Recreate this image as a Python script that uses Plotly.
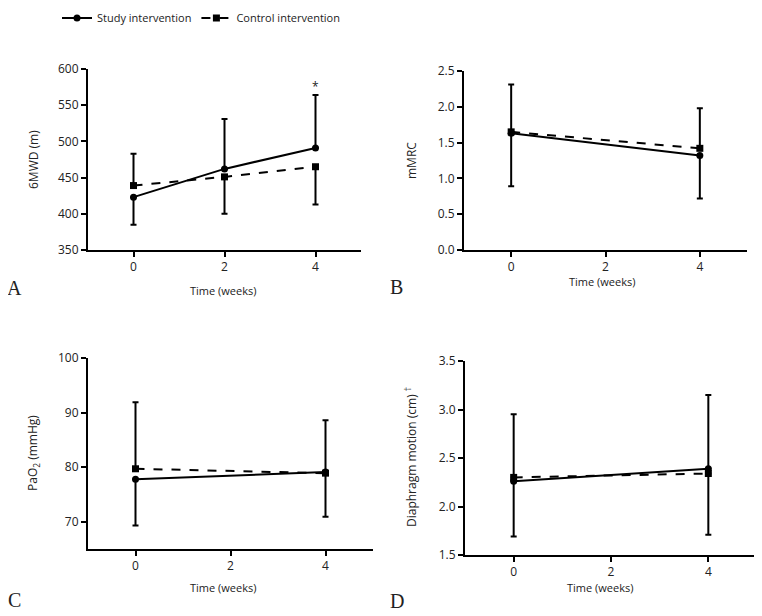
import plotly.graph_objects as go

# page is 762x616; the html body has an 8px margin, so the figure is 754x608
OFF = 8
W, H = 762 - OFF, 616 - OFF

# ---------------- data ----------------
weeks_A = [0, 2, 4]
weeks_BCD = [0, 4]

study_6mwd = [423, 462, 491]
control_6mwd = [439, 451, 465]
study_6mwd_up = [0, 69, 73]
study_6mwd_down = [38, 0, 0]
control_6mwd_up = [44, 0, 0]
control_6mwd_down = [0, 51, 52]

study_mmrc = [1.63, 1.32]
control_mmrc = [1.65, 1.42]
study_mmrc_up = [0, 0]
study_mmrc_down = [0.74, 0.60]
control_mmrc_up = [0.66, 0.56]
control_mmrc_down = [0, 0]

study_pao2 = [77.8, 79.1]
control_pao2 = [79.7, 78.9]
study_pao2_up = [0, 9.5]
study_pao2_down = [8.5, 0]
control_pao2_up = [12.2, 0]
control_pao2_down = [0, 8.0]

study_dia = [2.26, 2.39]
control_dia = [2.30, 2.34]
study_dia_up = [0, 0.76]
study_dia_down = [0.57, 0]
control_dia_up = [0.65, 0]
control_dia_down = [0, 0.63]

series_names = ["Study intervention", "Control intervention"]
x_ticks = [0, 2, 4]


def fx(px):
    return (px - OFF) / W


def fy(py):
    return 1 - (py - OFF) / H


# ---------------- layout geometry (page pixels) ----------------
panels = [
    dict(x=(88, 361), y=(69, 250), yr=[350, 600], dt=50, t0=350, fmt="d"),
    dict(x=(464, 747), y=(71, 250), yr=[0, 2.5], dt=0.5, t0=0, fmt=".1f"),
    dict(x=(88, 373), y=(358, 549), yr=[65, 100], dt=10, t0=70, fmt="d"),
    dict(x=(465, 757), y=(361, 555), yr=[1.5, 3.5], dt=0.5, t0=1.5, fmt=".1f"),
]

datasets = [
    (weeks_A, study_6mwd, study_6mwd_up, study_6mwd_down,
     control_6mwd, control_6mwd_up, control_6mwd_down),
    (weeks_BCD, study_mmrc, study_mmrc_up, study_mmrc_down,
     control_mmrc, control_mmrc_up, control_mmrc_down),
    (weeks_BCD, study_pao2, study_pao2_up, study_pao2_down,
     control_pao2, control_pao2_up, control_pao2_down),
    (weeks_BCD, study_dia, study_dia_up, study_dia_down,
     control_dia, control_dia_up, control_dia_down),
]

FONT = "Open Sans"
TXT = "#222222"

fig = go.Figure()
layout = dict(
    width=W, height=H,
    margin=dict(l=0, r=0, t=0, b=0, autoexpand=False),
    paper_bgcolor="white", plot_bgcolor="white",
    font=dict(family=FONT, size=12, color=TXT),
    showlegend=True,
    legend=dict(orientation="h", x=fx(57), y=fy(18), xanchor="left", yanchor="middle",
                xref="container", yref="container",
                font=dict(family=FONT, size=11, color=TXT),
                itemwidth=30, tracegroupgap=0, bgcolor="rgba(0,0,0,0)",
                traceorder="normal"),
)

traces = []
for i, (p, d) in enumerate(zip(panels, datasets)):
    n = "" if i == 0 else str(i + 1)
    xa, ya = "x" + n, "y" + n
    wk, s, su, sd, c, cu, cd = d
    traces.append(go.Scatter(
        x=wk, y=s, xaxis=xa, yaxis=ya, mode="lines+markers",
        name=series_names[0], legendgroup="s", showlegend=(i == 0),
        line=dict(color="black", width=2),
        marker=dict(symbol="circle", size=7, color="black"),
        error_y=dict(type="data", symmetric=False, array=su, arrayminus=sd,
                     color="black", thickness=2, width=3),
    ))
    traces.append(go.Scatter(
        x=wk, y=c, xaxis=xa, yaxis=ya, mode="lines+markers",
        name=series_names[1], legendgroup="c", showlegend=(i == 0),
        line=dict(color="black", width=2, dash="dash"),
        marker=dict(symbol="square", size=7, color="black"),
        error_y=dict(type="data", symmetric=False, array=cu, arrayminus=cd,
                     color="black", thickness=2, width=3),
    ))
    axis_common = dict(showgrid=False, zeroline=False, showline=True, linecolor="black",
                       linewidth=2, ticks="outside", ticklen=5, tickwidth=2,
                       tickcolor="black", tickfont=dict(family=FONT, size=12, color=TXT))
    layout["xaxis" + n] = dict(
        domain=[fx(p["x"][0]), fx(p["x"][1])], anchor=ya, range=[-1, 5],
        tickmode="array", tickvals=x_ticks, ticktext=[str(t) for t in x_ticks],
        **axis_common)
    layout["yaxis" + n] = dict(
        domain=[fy(p["y"][1]), fy(p["y"][0])], anchor=xa, range=p["yr"],
        tick0=p["t0"], dtick=p["dt"], tickformat=p["fmt"], **axis_common)

for t in traces:
    fig.add_trace(t)

ann = []


def txt(x, y, text, size=11, angle=0, family=FONT):
    ann.append(dict(x=fx(x), y=fy(y), xref="paper", yref="paper", text=text,
                    showarrow=False, textangle=angle, xanchor="center", yanchor="middle",
                    font=dict(family=family, size=size, color=TXT)))


# x-axis titles
txt(223, 290, "Time (weeks)")
txt(602, 281, "Time (weeks)")
txt(223, 587, "Time (weeks)")
txt(600, 587, "Time (weeks)")
# y-axis titles
txt(33, 160, "6MWD (m)", size=12, angle=-90)
txt(411, 160, "mMRC", size=12, angle=-90)
txt(33, 453, "PaO<sub>2</sub> (mmHg)", size=12, angle=-90)
txt(411, 457, "Diaphragm motion (cm) <sup><span style='color:#222222'>†</span></sup>",
    size=12, angle=-90)
# panel letters
txt(14, 288, "A", size=20, family="Liberation Serif")
txt(397, 287, "B", size=20, family="Liberation Serif")
txt(14, 600, "C", size=20, family="Liberation Serif")
txt(397, 601, "D", size=20, family="Liberation Serif")

# significance marker
ann.append(dict(x=4, y=576, xref="x", yref="y", text="*", showarrow=False,
                font=dict(family=FONT, size=12, color=TXT)))

layout["annotations"] = ann
fig.update_layout(**layout)
fig.write_html("out.html")
